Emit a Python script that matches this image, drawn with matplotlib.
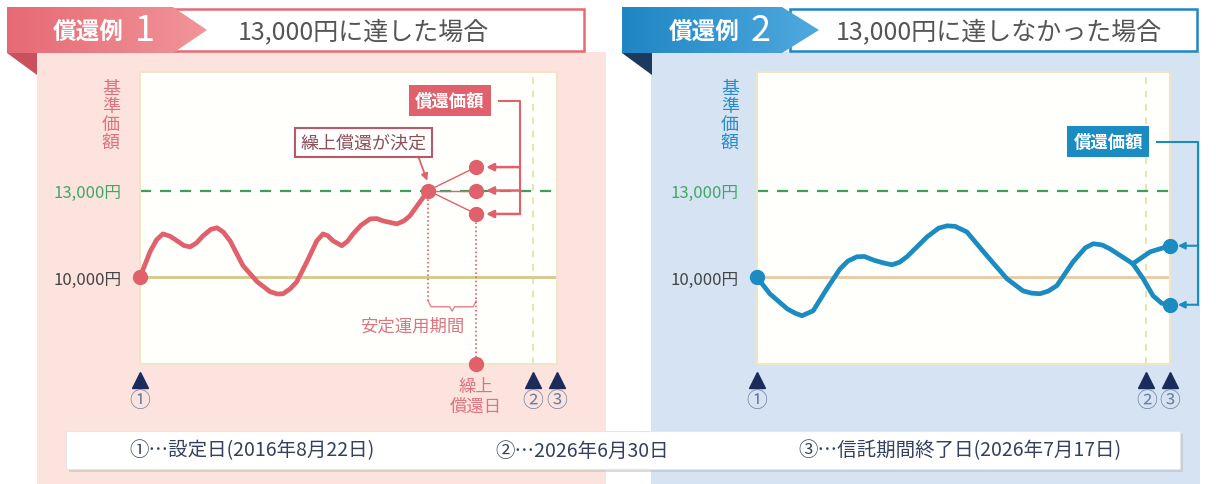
import numpy as np
import matplotlib
matplotlib.use('Agg')
import matplotlib.pyplot as plt
from matplotlib.patches import Rectangle, Polygon
from matplotlib.colors import LinearSegmentedColormap

plt.rcParams['font.family'] = ['Noto Sans CJK JP', 'DejaVu Sans']

# ---- データ ----
base_price = 10000      # 10,000円
target_price = 13000    # 13,000円
y_range = (7000, 17100)

# 償還例1 基準価額の推移（横軸は 0=設定日, 100=信託期間終了日）
left_x = [0, 2.4, 4.0, 5.5, 7.2, 8.9, 10.5, 12.0, 13.5, 15.1, 17.0, 18.5, 20.0, 21.6,
          24.7, 28.1, 31.2, 33.0, 34.3, 36.0, 37.6, 40.0, 42.4, 43.9, 45.0, 46.3,
          48.4, 49.8, 51.1, 53.0, 55.2, 56.8, 58.3, 61.6, 63.3, 64.7, 67.1, 69.1]
left_v = [10000, 10880, 11300, 11500, 11420, 11260, 11100, 11050, 11180, 11430, 11660,
          11710, 11560, 11260, 10400, 9845, 9500, 9420, 9430, 9600, 9845, 10530, 11260,
          11500, 11440, 11260, 11090, 11250, 11500, 11800, 12020, 12030, 11950, 11845,
          11950, 12120, 12600, 13000]
decide_x = 69.1                      # 繰上償還が決定
redeem_x = 80.6                      # 繰上償還日
redeem_v = [13810, 13000, 12190]     # 償還価額（3通り）

# 償還例2 基準価額の推移
right_x = [0, 3.1, 7.3, 9.2, 10.9, 13.6, 16.9, 20.1, 22.0, 24.2, 26.0, 28.1, 30.5, 32.7,
           34.5, 36.3, 41.2, 44.0, 46.0, 48.0, 50.8, 55.7, 60.5, 64.4, 66.5, 68.5, 70.5,
           72.6, 76.5, 79.5, 81.4, 83.5, 85.5, 91.0]
right_v = [10000, 9430, 8910, 8760, 8670, 8840, 9600, 10290, 10560, 10710, 10720, 10600,
           10500, 10430, 10520, 10710, 11400, 11700, 11780, 11760, 11570, 10740, 9950,
           9530, 9450, 9430, 9520, 9710, 10530, 11020, 11160, 11120, 10980, 10470]
right_up_x = [91.0, 95.2, 100]
right_up_v = [10470, 10880, 11090]
right_dn_x = [91.0, 93.5, 95.9, 98.0, 100]
right_dn_v = [10470, 9950, 9360, 9100, 9050]

mark_x = [0, 94.3, 100]
mark_labels = ['①', '②', '③']
legend_items = ['①…設定日(2016年8月22日)', '②…2026年6月30日', '③…信託期間終了日(2026年7月17日)']
legend_cx = [252, 582, 960]

# ---- 色 ----
pink = '#e0606c'
pink_txt = '#dc7480'
blue = '#1a8cc2'
navy = '#1b2c5c'
green = '#3f9e5e'

W, H = 1216, 485
fig = plt.figure(figsize=(W / 100, H / 100), dpi=100)
fig.patch.set_facecolor('white')

bg = fig.add_axes([0, 0, 1, 1])
bg.set_xlim(0, W)
bg.set_ylim(H, 0)
bg.axis('off')


def header(x0, x_tip0, x_tip, box_x0, box_x1, c_dark, c_light, c_fold, num, title, num_x, title_x):
    bg.add_patch(Rectangle((box_x0, 10), box_x1 - box_x0, 42, fc='white', ec=c_dark, lw=1.8, zorder=2))
    pts = [(x0, 8), (x_tip0, 8), (x_tip, 31), (x_tip0, 54), (x0, 54)]
    tab = Polygon(pts, closed=True, fc='none', ec='none', zorder=3)
    bg.add_patch(tab)
    grad = np.linspace(0, 1, 100).reshape(1, -1)
    cmap = LinearSegmentedColormap.from_list('g', [c_dark, c_light])
    im = bg.imshow(grad, extent=(x0, x_tip, 54, 8), cmap=cmap, aspect='auto', zorder=3)
    im.set_clip_path(tab)
    bg.add_patch(Polygon([(x0, 54), (x0 + 30, 54), (x0 + 30, 76)], closed=True, fc=c_fold, ec='none', zorder=3))
    bg.text(num_x - 57, 32, '償還例', color='white', fontsize=17, weight='bold', ha='center', va='center', zorder=4)
    bg.text(num_x, 31, num, color='white', fontsize=26, ha='center', va='center', zorder=4)
    bg.text(title_x, 32, title, color='#555555', fontsize=18, ha='center', va='center', zorder=4)


# 背景パネル
bg.add_patch(Rectangle((37, 53), 569, H - 53, fc='#fde3de', ec='none', zorder=1))
bg.add_patch(Rectangle((651, 53), 549, H - 53, fc='#d5e3f2', ec='none', zorder=1))

header(7, 173, 207, 168, 584, '#e66a75', '#f09598', '#c9505c', '1', '13,000円に達した場合', 145, 363)
header(622, 782, 819, 790, 1197, '#1f86c4', '#4fa9de', '#1c3a5e', '2', '13,000円に達しなかった場合', 761, 999)

# 縦軸ラベル
bg.text(111, 116, '基\n準\n価\n額', color=pink_txt, fontsize=13, ha='center', va='center', linespacing=1.0, zorder=4)
bg.text(730, 116, '基\n準\n価\n額', color='#2a8cc8', fontsize=13, ha='center', va='center', linespacing=1.0, zorder=4)

# 凡例ボックス
bg.add_patch(Rectangle((69, 435), 1114, 38, fc='#b8b8b8', ec='none', alpha=0.5, zorder=5))
bg.add_patch(Rectangle((66, 432), 1114, 38, fc='white', ec='#e6e6e6', lw=0.8, zorder=6))
for cx, s in zip(legend_cx, legend_items):
    bg.text(cx, 451, s, color='#34405e', fontsize=14, ha='center', va='center', zorder=7)

bg.set_xlim(0, W)
bg.set_ylim(H, 0)


def make_ax(x0, x1, y0=73, y1=365):
    ax = fig.add_axes([x0 / W, 1 - y1 / H, (x1 - x0) / W, (y1 - y0) / H])
    ax.set_zorder(2)
    ax.set_xlim(0, 100)
    ax.set_ylim(*y_range)
    ax.set_facecolor('#fffffb')
    for sp in ax.spines.values():
        sp.set_color('#efe6c8')
        sp.set_linewidth(1.5)
    ax.set_xticks([])
    ax.set_yticks([base_price, target_price], ['10,000円', '13,000円'])
    ax.tick_params(axis='y', length=0, pad=13, labelsize=12)
    labs = ax.get_yticklabels()
    labs[0].set_color('#444444')
    labs[1].set_color('#3fa867')
    ax.axhline(target_price, color=green, lw=1.6, ls=(0, (5, 4)), zorder=2)
    ax.axvline(mark_x[1], color='#e6dca8', lw=1.2, ls=(0, (4, 4)), zorder=1)
    tr = ax.get_xaxis_transform()
    ax.plot(mark_x, [-0.055] * 3, '^', ms=11, color=navy, transform=tr, clip_on=False)
    for mx, lab in zip(mark_x, mark_labels):
        ax.text(mx, -0.125, lab, transform=tr, ha='center', va='center', fontsize=15, color='#6f7fa0')
    return ax


# ---- 償還例1 ----
ax1 = make_ax(140, 557)
ax1.axhline(base_price, color='#d6c887', lw=2, zorder=1)
ax1.plot(left_x, left_v, color=pink, lw=3.4, solid_joinstyle='round', solid_capstyle='round', zorder=4)
ax1.plot(left_x[0], left_v[0], 'o', ms=10, color=pink, clip_on=False, zorder=5)
ax1.plot(decide_x, target_price, 'o', ms=10, color=pink, zorder=5)
for v in redeem_v:
    ax1.plot([decide_x, redeem_x], [target_price, v], color=pink, lw=1, zorder=3)
ax1.plot([redeem_x] * len(redeem_v), redeem_v, 'o', ms=10, color=pink, zorder=5)

# 安定運用期間
brace_top, brace_mid, brace_tip = 9180, 8980, 8830
ax1.plot([decide_x, decide_x], [target_price, brace_top], color=pink, lw=1.2, ls=(0, (1, 1.5)), zorder=3)
ax1.plot([redeem_x, redeem_x], [min(redeem_v), y_range[0]], color=pink, lw=1.2, ls=(0, (1, 1.5)), zorder=3)
bc = (decide_x + redeem_x) / 2
ax1.plot([decide_x, decide_x + 0.7, bc - 0.6, bc, bc + 0.6, redeem_x - 0.7, redeem_x],
         [brace_top, brace_mid, brace_mid, brace_tip, brace_mid, brace_mid, brace_top],
         color=pink, lw=1, alpha=0.8, zorder=3)
ax1.text(65.2, 8314, '安定運用期間', color=pink_txt, fontsize=12.5, ha='center', va='center')
ax1.plot(redeem_x, y_range[0], 'o', ms=10, color=pink, clip_on=False, zorder=5)
ax1.text(redeem_x, -0.045, '繰上\n償還日', transform=ax1.get_xaxis_transform(), color=pink_txt,
         fontsize=12.5, ha='center', va='top', linespacing=1.1)

# 繰上償還が決定
ax1.annotate('繰上償還が決定', xy=(decide_x, 13250), xytext=(53.6, 14662), ha='center', va='center',
             fontsize=13, color='#8a5058',
             bbox=dict(boxstyle='square,pad=0.3', fc='white', ec='#b85a66', lw=1.5),
             arrowprops=dict(arrowstyle='-|>', color=pink, lw=1.3, relpos=(0.92, 0),
                             shrinkA=0, shrinkB=2, mutation_scale=10), zorder=6)

# 償還価額
ax1.text(74.3, 16114, '償還価額', color='white', fontsize=12.5, weight='bold', ha='center', va='center',
         bbox=dict(boxstyle='square,pad=0.35', fc=pink, ec='none'), zorder=6)
ax1.plot([86.0, 91.1, 91.1], [16114, 16114, min(redeem_v)], color=pink, lw=1.5, zorder=3)
for v in redeem_v:
    ax1.annotate('', xy=(83.0, v), xytext=(91.1, v),
                 arrowprops=dict(arrowstyle='-|>', color=pink, lw=1.8, shrinkA=0, shrinkB=0,
                                 mutation_scale=11), zorder=4)

# ---- 償還例2 ----
ax2 = make_ax(757, 1170)
ax2.axhline(base_price, color='#edc8a0', lw=2, zorder=1)
ax2.plot(right_x, right_v, color=blue, lw=3.4, solid_joinstyle='round', solid_capstyle='round', zorder=4)
ax2.plot(right_up_x, right_up_v, color=blue, lw=3.4, solid_joinstyle='round', solid_capstyle='round', zorder=4)
ax2.plot(right_dn_x, right_dn_v, color=blue, lw=3.4, solid_joinstyle='round', solid_capstyle='round', zorder=4)
ax2.plot(right_x[0], right_v[0], 'o', ms=10, color=blue, clip_on=False, zorder=5)
ends = [right_up_v[-1], right_dn_v[-1]]
ax2.plot([100, 100], ends, 'o', ms=10, color=blue, clip_on=False, zorder=5)
ax2.text(85.0, 14696, '償還価額', color='white', fontsize=12.5, weight='bold', ha='center', va='center',
         bbox=dict(boxstyle='square,pad=0.35', fc=blue, ec='none'), zorder=6)
ax2.plot([96.9, 106.8, 106.8], [14696, 14696, min(ends)], color=blue, lw=1.5, clip_on=False, zorder=3)
for v in ends:
    ax2.annotate('', xy=(101.9, v), xytext=(106.8, v), annotation_clip=False,
                 arrowprops=dict(arrowstyle='-|>', color=blue, lw=1.5, shrinkA=0, shrinkB=0,
                                 mutation_scale=10), zorder=4)

fig.savefig('out.png', dpi=100)
